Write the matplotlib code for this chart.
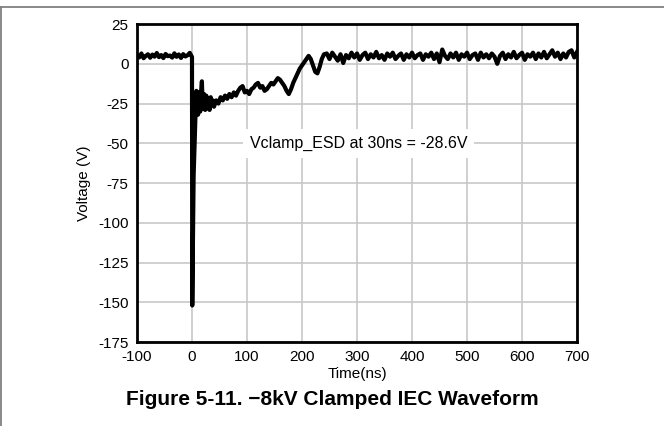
import numpy as np
import matplotlib
matplotlib.use("Agg")
import matplotlib.pyplot as plt
from matplotlib.lines import Line2D

plt.rcParams['font.family'] = ['Liberation Sans', 'DejaVu Sans']
plt.rcParams['axes.unicode_minus'] = False

# pre-trigger baseline, -100 .. 0 ns every 4 ns
pre_t = np.arange(-100, 1, 4)
pre_v = [5.5, 4.0, 6.5, 3.5, 5.0, 6.0, 3.8, 5.8, 4.5, 6.8, 4.2, 5.5, 3.6,
         6.2, 4.8, 5.2, 3.9, 6.6, 4.4, 5.9, 3.7, 6.1, 4.6, 5.4, 6.9, 4.3]

# ESD strike and first ringing
trans_t = [0.5, 1.5, 3, 4, 5, 6, 7, 8, 9, 10, 11, 12, 13, 14, 15, 16, 17, 18,
           19, 20, 22, 24, 26, 28, 30, 32, 34, 36, 38, 40]
trans_v = [-152, -120, -70, -60, -48, -36, -28, -17, -30, -22, -32, -18, -28,
           -24, -30, -20, -15, -11, -22, -28, -19, -29, -20, -28, -22, -29,
           -21, -26, -23, -27]

# slow recovery, 44 .. 240 ns every 4 ns
mid_t = np.arange(44, 241, 4)
mid_v = [-23, -25, -21, -23, -20, -22, -19, -21, -18, -20,
         -17, -15, -14, -18, -17, -19, -16, -15, -13, -12,
         -15, -14, -17, -16, -14, -12, -13, -11, -9, -10,
         -12, -14, -17, -19, -16, -12, -9, -6, -3, -1,
         1, 3, 5, 3, -1, -5, -6, -2, 3, 6]

# settled, 245 .. 700 ns every 5 ns
post_t = np.arange(245, 701, 5)
post_v = [6.5, 3.0, 7.0, 4.5, 2.0, 6.0, 0.5, 5.5, 3.5, 7.0,
          4.0, 6.5, 2.5, 5.5, 7.0, 3.0, 6.0, 4.0, 7.5, 3.5,
          5.5, 2.5, 6.5, 4.5, 7.0, 3.0, 5.0, 6.5, 2.5, 6.0,
          4.0, 7.0, 3.5, 5.5, 6.5, 2.5, 6.0, 4.5, 7.0, 3.0,
          6.5, 1.0, 9.0, 5.0, 3.0, 6.5, 4.0, 7.0, 2.5, 6.0,
          4.5, 7.0, 3.0, 5.5, 6.5, 2.5, 7.0, 4.0, 6.0, 3.5,
          6.5, 4.5, 0.0, 5.0, 7.0, 3.0, 6.0, 4.0, 7.5, 3.5,
          5.5, 7.0, 2.5, 6.0, 4.5, 7.0, 3.0, 6.5, 4.0, 7.5,
          3.5, 6.0, 8.5, 4.5, 7.0, 3.0, 6.5, 4.0, 7.5, 8.5,
          4.0, 7.5]

t = np.concatenate([pre_t, trans_t, mid_t, post_t])
v = np.concatenate([pre_v, trans_v, mid_v, post_v])

fig = plt.figure(figsize=(6.64, 4.26), dpi=100)
ax = fig.add_axes([0.2063, 0.197, 0.6627, 0.7465])

ax.plot(t, v, color='black', linewidth=3.0, solid_joinstyle='round', zorder=3)

ax.set_xlim(-100, 700)
ax.set_ylim(-175, 25)
ax.set_xticks(np.arange(-100, 701, 100))
ax.set_yticks(np.arange(-175, 26, 25))
ax.grid(True, color='#c8c8c8', linewidth=1.2)
ax.set_axisbelow(True)
ax.tick_params(length=0, labelsize=11, pad=6)
for s in ax.spines.values():
    s.set_linewidth(2.0)
    s.set_zorder(4)

ax.set_xlabel('Time(ns)', fontsize=11, labelpad=2)
ax.set_ylabel('Voltage (V)', fontsize=11, labelpad=5)

ax.text(303, -50, 'Vclamp_ESD at 30ns = -28.6V', fontsize=11.5,
        ha='center', va='center', zorder=5,
        bbox=dict(facecolor='white', edgecolor='none', pad=5))

fig.text(0.5, 0.062, 'Figure 5-11. \u22128kV Clamped IEC Waveform',
         fontsize=15, fontweight='bold', ha='center', va='center')

# page frame lines
fig.add_artist(Line2D([0, 1], [1 - 6.5 / 426] * 2, color='#808080', linewidth=1.3,
                      transform=fig.transFigure))
fig.add_artist(Line2D([0.5 / 664] * 2, [0, 1 - 6.5 / 426], color='#808080', linewidth=1.3,
                      transform=fig.transFigure))

fig.savefig('out.png', dpi=100)
